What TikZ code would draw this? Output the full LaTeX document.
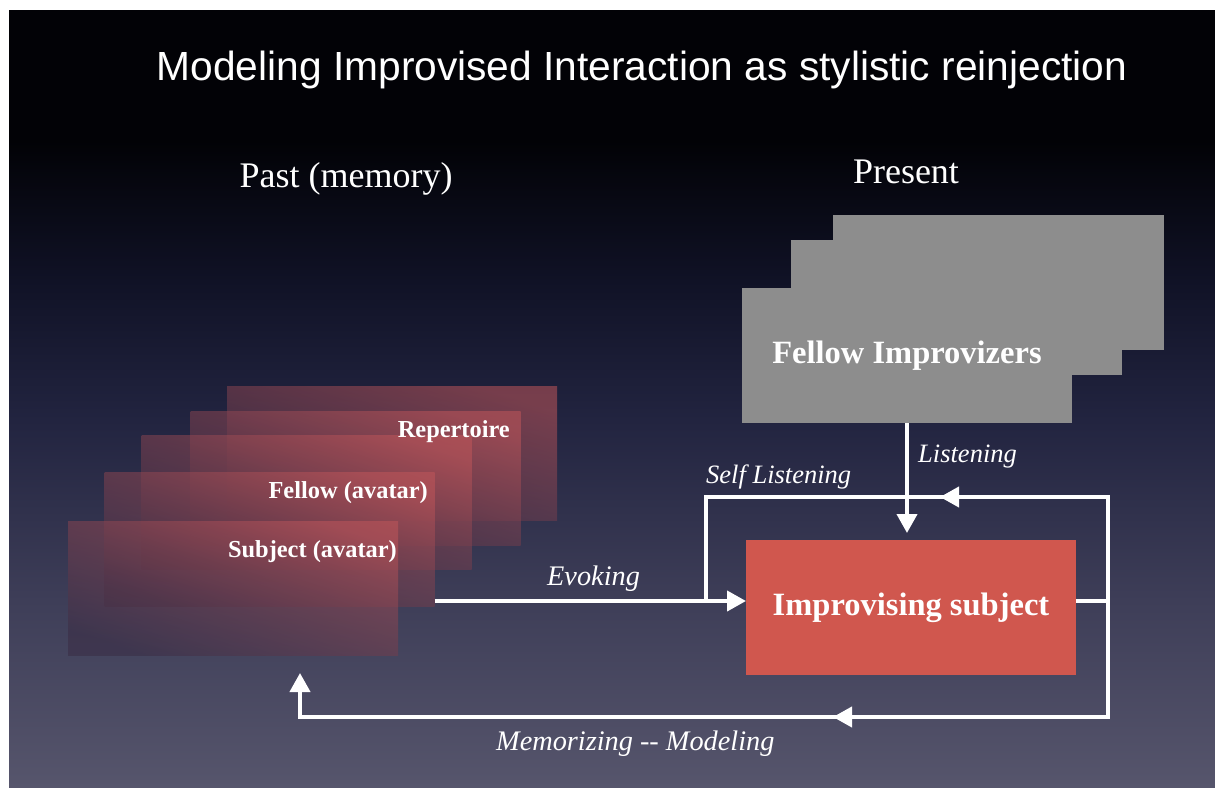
\documentclass[tikz,border=0pt]{standalone}
\usepackage{fontspec}
\setmainfont{Liberation Serif}
\newfontfamily\titlefont{Liberation Sans}
\usetikzlibrary{arrows.meta}
\definecolor{bgA}{RGB}{86,85,108}
\definecolor{bgB}{RGB}{62,62,88}
\definecolor{bgC}{RGB}{34,36,64}
\definecolor{bgD}{RGB}{16,18,38}
\definecolor{bgE}{RGB}{2,2,6}
\definecolor{grayfill}{RGB}{141,141,141}
\definecolor{redfill}{RGB}{208,87,78}
\definecolor{memlight}{RGB}{192,86,90}
\definecolor{memdark}{RGB}{58,44,68}
\pgfdeclareverticalshading{slidebg}{100bp}{color(0bp)=(bgA); color(25bp)=(bgA); color(37bp)=(bgB); color(48.6bp)=(bgC); color(57.6bp)=(bgD); color(66.6bp)=(bgE); color(100bp)=(bgE)}
\tikzset{
  memrect/.style={shade, top color=memlight, bottom color=memdark, shading angle=-18, opacity=0.55, minimum width=330pt, minimum height=134pt, inner sep=0pt, outer sep=0pt},
  graybox/.style={fill=grayfill, minimum width=331pt, minimum height=135pt, inner sep=0pt, outer sep=0pt},
  boxtext/.style={text=white, font=\bfseries\fontsize{32.5}{36}\selectfont},
  memtext/.style={text=white, font=\bfseries\fontsize{24.4}{28}\selectfont, inner sep=0pt},
  lbl/.style={text=white, font=\itshape\fontsize{26.5}{30}\selectfont, inner sep=0pt},
  lblbig/.style={lbl, font=\itshape\fontsize{28.3}{32}\selectfont},
  head/.style={text=white, font=\fontsize{36}{40}\selectfont, inner sep=0pt},
  flow/.style={draw=white, line width=4pt},
  tip/.style={-{Triangle[length=19pt,width=20pt]}}
}
\begin{document}
\begin{tikzpicture}[x=1pt,y=-1pt]
\useasboundingbox (0,0) rectangle (1215,787);
\fill[white] (0,0) rectangle (1215,787);
\shade[shading=slidebg] (9,10) rectangle (1215,787);

% title
\node[anchor=base, text=white, inner sep=0pt, font=\titlefont\fontsize{40.7}{48}\selectfont] (title) at (642,80) {Modeling Improvised Interaction as stylistic reinjection};
\node[head, anchor=base] (past) at (346,187) {Past (memory)};
\node[head, anchor=base] (present) at (906,183) {Present};

% memory stack
\node[memrect] (m1) at (392,453) {};
\node[memrect] (m2) at (355.5,478) {};
\node[memrect] (m3) at (306.5,502) {};
\node[memrect] (m4) at (269.5,539) {};
\node[memrect] (m5) at (233,588) {};
\node[memtext, anchor=base east] (rep) at (510,437) {Repertoire};
\node[memtext, anchor=base east] (fav) at (428,498) {Fellow (avatar)};
\node[memtext, anchor=base east] (sav) at (397,557) {Subject (avatar)};

% fellow improvizers stack
\node[graybox] (g1) at (998.5,282.5) {};
\node[graybox] (g2) at (956,307.5) {};
\node[graybox, minimum width=330pt, boxtext] (fi) at (907,355.5) {Fellow Improvizers};

% improvising subject
\node[fill=redfill, minimum width=330pt, minimum height=135pt, inner sep=0pt, outer sep=0pt, boxtext] (is) at (911,607.5) {Improvising subject};

% coordinates
\coordinate (evs) at (m4.east |- 0,601);
\coordinate (eve) at (is.west |- 0,601);
\coordinate (rs) at (is.east |- 0,601);
\coordinate (lise) at (907,533);
\coordinate (rc) at (1108,601);
\coordinate (tr) at (1108,497);
\coordinate (tm) at (940,497);
\coordinate (tl) at (706,497);
\coordinate (jl) at (706,601);
\coordinate (br) at (1108,717);
\coordinate (bm) at (833,717);
\coordinate (bl) at (300,717);
\coordinate (be) at (300,673);

% connectors
\draw[flow, tip] (evs) -- (eve);
\draw[flow, tip] (fi.south) -- (lise);
\draw[flow] (rs) -- (rc) -- (tr) -- (tl) -- (jl);
\draw[flow, tip] (tr) -- (tm);
\draw[flow, tip] (rc) -- (br) -- (bl) -- (be);
\draw[flow, tip] (br) -- (bm);

% labels
\node[lbl, anchor=base west] (llis) at (918,462) {Listening};
\node[lbl, anchor=base west] (lself) at (706,483) {Self Listening};
\node[lblbig, anchor=base west] (levo) at (547,585) {Evoking};
\node[lblbig, anchor=base west] (lmem) at (496,750) {Memorizing -{}- Modeling};
\end{tikzpicture}
\end{document}
